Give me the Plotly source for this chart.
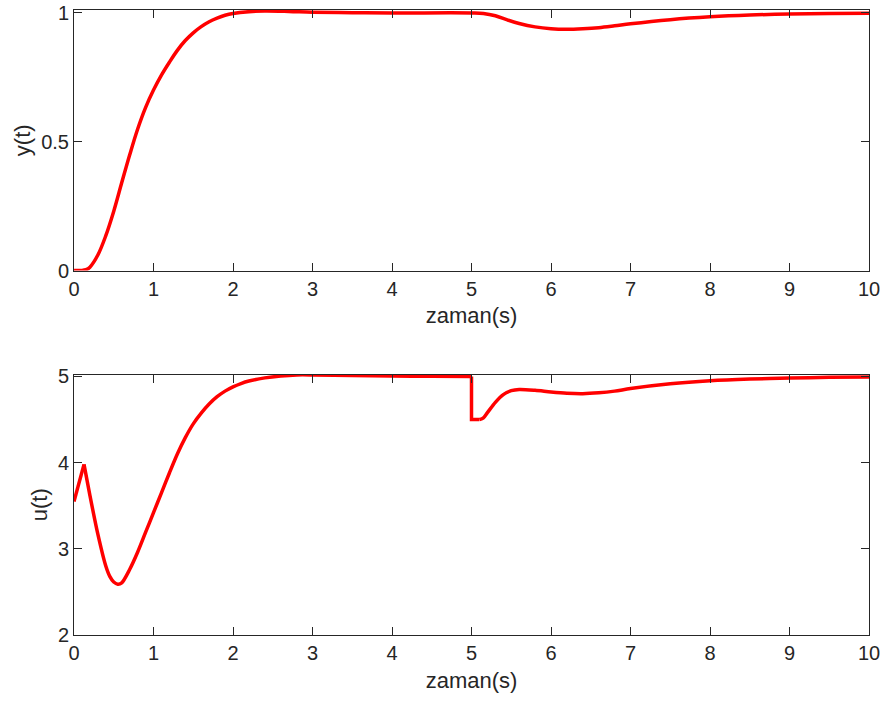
import plotly.graph_objects as go
from plotly.subplots import make_subplots

# Output response y(t) of the closed loop
t_y = [0, 0.1, 0.15, 0.2, 0.3, 0.4, 0.5, 0.6, 0.7, 0.8, 0.9, 1.0, 1.1, 1.2, 1.3,
       1.4, 1.5, 1.6, 1.7, 1.8, 1.9, 2.0, 2.2, 2.4, 2.7, 3.0, 3.5, 4.0, 5.0,
       5.15, 5.3, 5.45, 5.6, 5.8, 6.0, 6.2, 6.4, 6.6, 6.8, 7.0, 7.5, 8.0, 8.5,
       9.0, 9.5, 10.0]
y_vals = [0, 0, 0.003, 0.013, 0.06, 0.135, 0.23, 0.34, 0.448, 0.548, 0.632, 0.70,
          0.758, 0.808, 0.854, 0.892, 0.922, 0.946, 0.965, 0.979, 0.99, 0.997, 1.004,
          1.0066, 1.005, 1.002, 1.0, 0.999, 0.999, 0.997, 0.988, 0.972, 0.958, 0.945,
          0.938, 0.936, 0.938, 0.942, 0.949, 0.957, 0.973, 0.984, 0.991, 0.995, 0.997,
          0.998]

# Control signal u(t); the set-point disturbance at t = 5 s gives the step down
t_u = [0, 0.126, 0.2, 0.3, 0.4, 0.45, 0.5, 0.55, 0.6, 0.7, 0.8, 0.9, 1.0, 1.1,
       1.2, 1.3, 1.4, 1.5, 1.6, 1.7, 1.8, 1.9, 2.0, 2.1, 2.2, 2.4, 2.6, 2.8, 3.0,
       3.5, 4.0, 4.5, 5.0, 5.0, 5.1, 5.15, 5.2, 5.3, 5.4, 5.5, 5.6, 5.8, 6.0,
       6.2, 6.4, 6.6, 6.8, 7.0, 7.5, 8.0, 8.5, 9.0, 9.5, 10.0]
u_vals = [3.55, 3.98, 3.62, 3.17, 2.80, 2.68, 2.615, 2.59, 2.605, 2.76, 2.96, 3.19,
          3.42, 3.65, 3.88, 4.10, 4.29, 4.45, 4.575, 4.68, 4.765, 4.83, 4.88, 4.918,
          4.947, 4.984, 5.006, 5.018, 5.018, 5.01, 5.005, 5.002, 5.0, 4.5, 4.5, 4.52,
          4.58, 4.70, 4.79, 4.835, 4.85, 4.84, 4.82, 4.805, 4.80, 4.81, 4.83, 4.86,
          4.915, 4.95, 4.97, 4.982, 4.99, 4.995]

x_ticks = list(range(0, 11))
y_ticks_top = [0, 0.5, 1]
y_ticks_bottom = [2, 3, 4, 5]

FONT = "Liberation Sans, Arial, sans-serif"
TXT = "#262626"
RED = "#ff0000"
LW = 3.5

fig = make_subplots(rows=2, cols=1, vertical_spacing=0.1664)

fig.add_trace(go.Scatter(x=t_y, y=y_vals, mode="lines",
                         line=dict(color=RED, width=LW, shape="spline", smoothing=1.0),
                         showlegend=False), row=1, col=1)

# u(t) is drawn piecewise: straight pieces at the kick / step, smooth elsewhere
i_peak = t_u.index(0.126)
i_drop = t_u.index(5.0)
i_flat = t_u.index(5.1)
pieces = [
    (0, i_peak + 1, "linear"),
    (i_peak, i_drop + 1, "spline"),
    (i_drop, i_flat + 1, "linear"),
    (i_flat, len(t_u), "spline"),
]
for a, b, shape in pieces:
    fig.add_trace(go.Scatter(x=t_u[a:b], y=u_vals[a:b], mode="lines",
                             line=dict(color=RED, width=LW, shape=shape, smoothing=0.8),
                             showlegend=False), row=2, col=1)

axis_common = dict(
    showline=True, linecolor=TXT, linewidth=1, mirror="ticks",
    ticks="inside", ticklen=8, tickwidth=1, tickcolor=TXT,
    showgrid=False, zeroline=False, automargin=False,
    tickfont=dict(family=FONT, size=20, color=TXT),
)

for r in (1, 2):
    fig.update_xaxes(range=[0, 10], tickvals=x_ticks, ticktext=[str(v) for v in x_ticks],
                     title=dict(text="zaman(s)", font=dict(family=FONT, size=22, color=TXT), standoff=9),
                     row=r, col=1, **axis_common)

fig.update_yaxes(range=[0, 1.0105], tickvals=y_ticks_top, ticktext=["0", "0.5", "1"],
                 title=dict(text="y(t)", font=dict(family=FONT, size=22, color=TXT), standoff=4),
                 row=1, col=1, **axis_common)
fig.update_yaxes(range=[2, 5.023], tickvals=y_ticks_bottom, ticktext=[str(v) for v in y_ticks_bottom],
                 title=dict(text="u(t)", font=dict(family=FONT, size=22, color=TXT), standoff=4),
                 row=2, col=1, **axis_common)

fig.update_layout(
    width=882, height=708,
    margin=dict(l=74, r=13, t=10, b=73),
    paper_bgcolor="white", plot_bgcolor="white",
    font=dict(family=FONT, color=TXT),
)

fig.write_html("out.html")
